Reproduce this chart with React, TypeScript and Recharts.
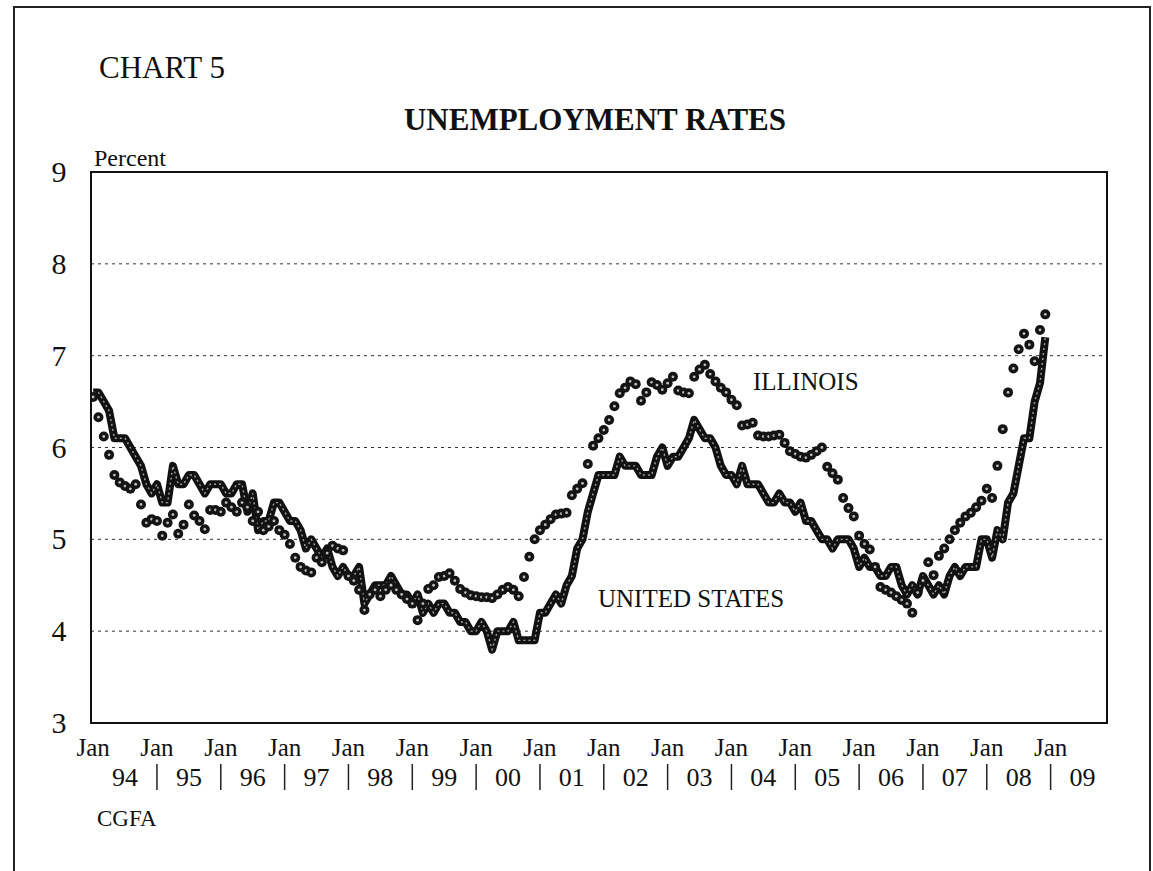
import { CartesianGrid, ComposedChart, Line, ReferenceArea, XAxis, YAxis } from "recharts";

// monthly, Jan 1994 .. Dec 2008
const usRate = [
  6.6, 6.6, 6.5, 6.4, 6.1, 6.1, 6.1, 6.0, 5.9, 5.8, 5.6, 5.5,
  5.6, 5.4, 5.4, 5.8, 5.6, 5.6, 5.7, 5.7, 5.6, 5.5, 5.6, 5.6,
  5.6, 5.5, 5.5, 5.6, 5.6, 5.3, 5.5, 5.1, 5.2, 5.2, 5.4, 5.4,
  5.3, 5.2, 5.2, 5.1, 4.9, 5.0, 4.9, 4.8, 4.9, 4.7, 4.6, 4.7,
  4.6, 4.6, 4.7, 4.3, 4.4, 4.5, 4.5, 4.5, 4.6, 4.5, 4.4, 4.4,
  4.3, 4.4, 4.2, 4.3, 4.2, 4.3, 4.3, 4.2, 4.2, 4.1, 4.1, 4.0,
  4.0, 4.1, 4.0, 3.8, 4.0, 4.0, 4.0, 4.1, 3.9, 3.9, 3.9, 3.9,
  4.2, 4.2, 4.3, 4.4, 4.3, 4.5, 4.6, 4.9, 5.0, 5.3, 5.5, 5.7,
  5.7, 5.7, 5.7, 5.9, 5.8, 5.8, 5.8, 5.7, 5.7, 5.7, 5.9, 6.0,
  5.8, 5.9, 5.9, 6.0, 6.1, 6.3, 6.2, 6.1, 6.1, 6.0, 5.8, 5.7,
  5.7, 5.6, 5.8, 5.6, 5.6, 5.6, 5.5, 5.4, 5.4, 5.5, 5.4, 5.4,
  5.3, 5.4, 5.2, 5.2, 5.1, 5.0, 5.0, 4.9, 5.0, 5.0, 5.0, 4.9,
  4.7, 4.8, 4.7, 4.7, 4.6, 4.6, 4.7, 4.7, 4.5, 4.4, 4.5, 4.4,
  4.6, 4.5, 4.4, 4.5, 4.4, 4.6, 4.7, 4.6, 4.7, 4.7, 4.7, 5.0,
  5.0, 4.8, 5.1, 5.0, 5.4, 5.5, 5.8, 6.1, 6.1, 6.5, 6.7, 7.2,
];

const illinoisRate = [
  6.55, 6.33, 6.12, 5.92, 5.7, 5.62, 5.58, 5.55, 5.6, 5.38, 5.18, 5.22,
  5.2, 5.04, 5.18, 5.27, 5.06, 5.16, 5.38, 5.26, 5.2, 5.11, 5.32, 5.32,
  5.3, 5.4, 5.35, 5.3, 5.4, 5.35, 5.2, 5.3, 5.1, 5.14, 5.2, 5.1,
  5.05, 4.95, 4.8, 4.7, 4.66, 4.64, 4.8, 4.75, 4.85, 4.93, 4.9, 4.88,
  4.6, 4.55, 4.45, 4.23, 4.4, 4.45, 4.38, 4.45, 4.5, 4.45, 4.4, 4.35,
  4.3, 4.12, 4.3, 4.46, 4.5, 4.59, 4.6, 4.63, 4.55, 4.46, 4.42, 4.39,
  4.38, 4.37, 4.37, 4.36, 4.4, 4.45, 4.48, 4.45, 4.38, 4.59, 4.81, 5.0,
  5.1, 5.16, 5.22, 5.27, 5.28, 5.29, 5.48, 5.55, 5.61, 5.82, 6.02, 6.1,
  6.19, 6.3, 6.45, 6.59, 6.65, 6.72, 6.69, 6.51, 6.6, 6.71, 6.68, 6.63,
  6.7, 6.77, 6.62, 6.6, 6.59, 6.77, 6.85, 6.9, 6.8, 6.72, 6.65, 6.6,
  6.52, 6.46, 6.24, 6.25, 6.27, 6.13, 6.12, 6.12, 6.13, 6.14, 6.05, 5.96,
  5.93, 5.9, 5.89, 5.92, 5.96, 6.0, 5.79, 5.72, 5.65, 5.45, 5.34, 5.25,
  5.04, 4.95, 4.89, 4.7, 4.48, 4.45, 4.42, 4.38, 4.34, 4.3, 4.2, 4.42,
  4.55, 4.75, 4.61, 4.82, 4.9, 5.0, 5.1, 5.18, 5.25, 5.29, 5.35, 5.42,
  5.55, 5.45, 5.8, 6.2, 6.6, 6.86, 7.07, 7.24, 7.12, 6.94, 7.28, 7.45,
];

const yearLabels = ["94", "95", "96", "97", "98", "99", "00", "01", "02", "03", "04", "05", "06", "07", "08", "09"];
const yTicks = [3, 4, 5, 6, 7, 8, 9];

const rows = usRate.map((v, i) => ({ m: i, us: v, il: illinoisRate[i] }));

const W = 1153;
const H = 871;
const X_DOMAIN: [number, number] = [-0.4, 190.6];
const PLOT_W = 1016;
const HALF_YEAR = (6 * PLOT_W) / (X_DOMAIN[1] - X_DOMAIN[0]);
const serif = "'Liberation Serif', 'Times New Roman', serif";

function MonthTick(props: any) {
  const { x, payload } = props;
  const i = Math.round(payload.value / 12);
  return (
    <g fontFamily={serif} fill="#111">
      <text x={x} y={756} textAnchor="middle" fontSize={25}>
        Jan
      </text>
      {i > 0 ? <line x1={x} x2={x} y1={764} y2={790} stroke="#222" strokeWidth={1.5} /> : null}
      <text x={x + HALF_YEAR} y={786} textAnchor="middle" fontSize={26}>
        {yearLabels[i]}
      </text>
    </g>
  );
}

function RateTick(props: any) {
  const { y, payload } = props;
  return (
    <text x={59} y={y + 10} textAnchor="middle" fontFamily={serif} fontSize={30} fill="#111">
      {payload.value}
    </text>
  );
}

function IlDot(props: any) {
  const { cx, cy, index } = props;
  if (cx == null || cy == null) return <g key={index} />;
  return (
    <g key={index}>
      <circle cx={cx} cy={cy} r={5} fill="#141414" />
      <circle cx={cx} cy={cy} r={1.4} fill="#bdbdbd" />
    </g>
  );
}

export default function App() {
  return (
    <div style={{ position: "fixed", left: 0, top: 0, width: W, height: H, background: "#fff", overflow: "hidden" }}>
      <div
        style={{
          position: "absolute",
          left: 13,
          top: 6,
          width: 1138,
          height: 880,
          border: "2px solid #222",
          borderBottom: "none",
          boxSizing: "border-box",
        }}
      />
      <div style={{ position: "absolute", left: 0, top: 0 }}>
        <ComposedChart width={W} height={H} data={rows} margin={{ top: 172, right: 46, bottom: 68, left: 31 }}>
          <CartesianGrid vertical={false} stroke="#333" strokeDasharray="3 4" />
          <XAxis
            dataKey="m"
            type="number"
            domain={X_DOMAIN}
            ticks={yearLabels.map((_, i) => i * 12)}
            tick={<MonthTick />}
            axisLine={false}
            tickLine={false}
            height={80}
            allowDataOverflow
          />
          <YAxis
            domain={[3, 9]}
            ticks={yTicks}
            tick={<RateTick />}
            axisLine={false}
            tickLine={false}
            width={60}
            allowDataOverflow
          />
          <ReferenceArea x1={X_DOMAIN[0]} x2={X_DOMAIN[1]} y1={3} y2={9} fill="none" stroke="#111" strokeWidth={2} />
          <Line
            dataKey="us"
            type="linear"
            stroke="#111"
            strokeWidth={8}
            strokeLinejoin="round"
            dot={false}
            activeDot={false}
            isAnimationActive={false}
          />
          <Line
            dataKey="us"
            type="linear"
            stroke="#a0a0a0"
            strokeWidth={1.4}
            strokeDasharray="2 3"
            dot={false}
            activeDot={false}
            isAnimationActive={false}
          />
          <Line dataKey="il" stroke="none" dot={IlDot} activeDot={false} isAnimationActive={false} />
        </ComposedChart>
      </div>
      <svg width={W} height={H} style={{ position: "absolute", left: 0, top: 0, pointerEvents: "none" }}>
        <g fontFamily={serif} fill="#111">
          <text x={99} y={78} fontSize={31}>
            CHART 5
          </text>
          <text x={595} y={130} fontSize={31} fontWeight="bold" textAnchor="middle">
            UNEMPLOYMENT RATES
          </text>
          <text x={94} y={166} fontSize={24}>
            Percent
          </text>
          <text x={753} y={390} fontSize={25}>
            ILLINOIS
          </text>
          <text x={598} y={607} fontSize={25}>
            UNITED STATES
          </text>
          <text x={97} y={826} fontSize={23}>
            CGFA
          </text>
        </g>
      </svg>
    </div>
  );
}
